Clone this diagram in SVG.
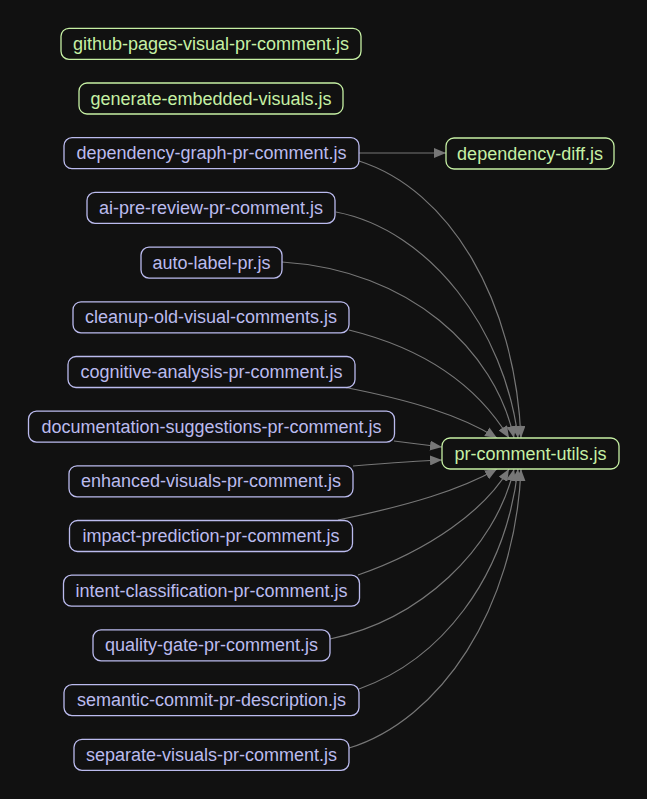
<svg xmlns="http://www.w3.org/2000/svg" width="647" height="799" viewBox="0 0 647 799">
<defs>
<style>
.bg{fill:#111111}
.n rect{fill:#111111;stroke-width:1.3}
.n text{font-family:"Liberation Sans",Arial,sans-serif;font-size:18px;text-anchor:middle}
.g rect{stroke:#c6f0a4}
.g text{fill:#c6f0a4}
.p rect{stroke:#bbbbee}
.p text{fill:#bbbbee}
.e path{fill:none;stroke:#777777;stroke-width:1.2}
</style>
<marker id="ah" viewBox="0 0 12 10" refX="12" refY="5" markerWidth="12" markerHeight="10" markerUnits="userSpaceOnUse" orient="auto">
<path d="M0,0 L12,5 L0,10 Z" fill="#777777"/>
</marker>
</defs>
<rect class="bg" x="0" y="0" width="647" height="799"/>
<g id="edges" class="e">
<path d="M359,153 L446,153" marker-end="url(#ah)"/>
<path d="M359,161 C450,190 515,300 521,438" marker-end="url(#ah)"/>
<path d="M336,212 C430,230 505,330 518,438" marker-end="url(#ah)"/>
<path d="M282,262 C410,270 495,350 514,438" marker-end="url(#ah)"/>
<path d="M349,330 C430,350 480,390 509,438" marker-end="url(#ah)"/>
<path d="M343,387 C410,400 460,415 497,438" marker-end="url(#ah)"/>
<path d="M394,441 C410,443 425,445 442,447" marker-end="url(#ah)"/>
<path d="M353,466 C390,463 415,461 442,460" marker-end="url(#ah)"/>
<path d="M338,520 C410,505 460,490 497,469" marker-end="url(#ah)"/>
<path d="M358,575 C430,550 485,510 509,469" marker-end="url(#ah)"/>
<path d="M330,639 C420,620 495,550 514,469" marker-end="url(#ah)"/>
<path d="M359,689 C440,660 505,580 518,469" marker-end="url(#ah)"/>
<path d="M349,748 C440,720 515,610 521,469" marker-end="url(#ah)"/>
</g>
<g id="n-github-pages" class="n g"><rect x="61" y="28.3" width="300" height="31" rx="8"/><text x="211" y="49.8">github-pages-visual-pr-comment.js</text></g>
<g id="n-generate-embedded" class="n g"><rect x="79" y="83" width="264" height="31" rx="8"/><text x="211" y="104.5">generate-embedded-visuals.js</text></g>
<g id="n-dependency-graph" class="n p"><rect x="64" y="137.7" width="295" height="31" rx="8"/><text x="211.5" y="159.2">dependency-graph-pr-comment.js</text></g>
<g id="n-ai-pre-review" class="n p"><rect x="87" y="192.4" width="248" height="31" rx="8"/><text x="211" y="213.9">ai-pre-review-pr-comment.js</text></g>
<g id="n-auto-label" class="n p"><rect x="141" y="247.1" width="141" height="31" rx="8"/><text x="211.5" y="268.6">auto-label-pr.js</text></g>
<g id="n-cleanup" class="n p"><rect x="73" y="301.8" width="276" height="31" rx="8"/><text x="211" y="323.3">cleanup-old-visual-comments.js</text></g>
<g id="n-cognitive" class="n p"><rect x="68" y="356.5" width="287" height="31" rx="8"/><text x="211.5" y="378">cognitive-analysis-pr-comment.js</text></g>
<g id="n-documentation" class="n p"><rect x="28.5" y="411.1" width="366" height="31" rx="8"/><text x="211.5" y="432.6">documentation-suggestions-pr-comment.js</text></g>
<g id="n-enhanced" class="n p"><rect x="69" y="465.8" width="284" height="31" rx="8"/><text x="211" y="487.3">enhanced-visuals-pr-comment.js</text></g>
<g id="n-impact" class="n p"><rect x="69.5" y="520.5" width="283" height="31" rx="8"/><text x="211" y="542">impact-prediction-pr-comment.js</text></g>
<g id="n-intent" class="n p"><rect x="63.5" y="575.2" width="296" height="31" rx="8"/><text x="211.5" y="596.7">intent-classification-pr-comment.js</text></g>
<g id="n-quality-gate" class="n p"><rect x="93" y="629.9" width="237" height="31" rx="8"/><text x="211.5" y="651.4">quality-gate-pr-comment.js</text></g>
<g id="n-semantic-commit" class="n p"><rect x="64" y="684.6" width="295" height="31" rx="8"/><text x="211.5" y="706.1">semantic-commit-pr-description.js</text></g>
<g id="n-separate-visuals" class="n p"><rect x="74" y="739.3" width="275" height="31" rx="8"/><text x="211.5" y="760.8">separate-visuals-pr-comment.js</text></g>
<g id="n-dependency-diff" class="n g"><rect x="446" y="138" width="168" height="31" rx="8"/><text x="530" y="159.5">dependency-diff.js</text></g>
<g id="n-pr-comment-utils" class="n g"><rect x="442" y="438" width="177" height="31" rx="8"/><text x="530.5" y="459.5">pr-comment-utils.js</text></g>
</svg>
